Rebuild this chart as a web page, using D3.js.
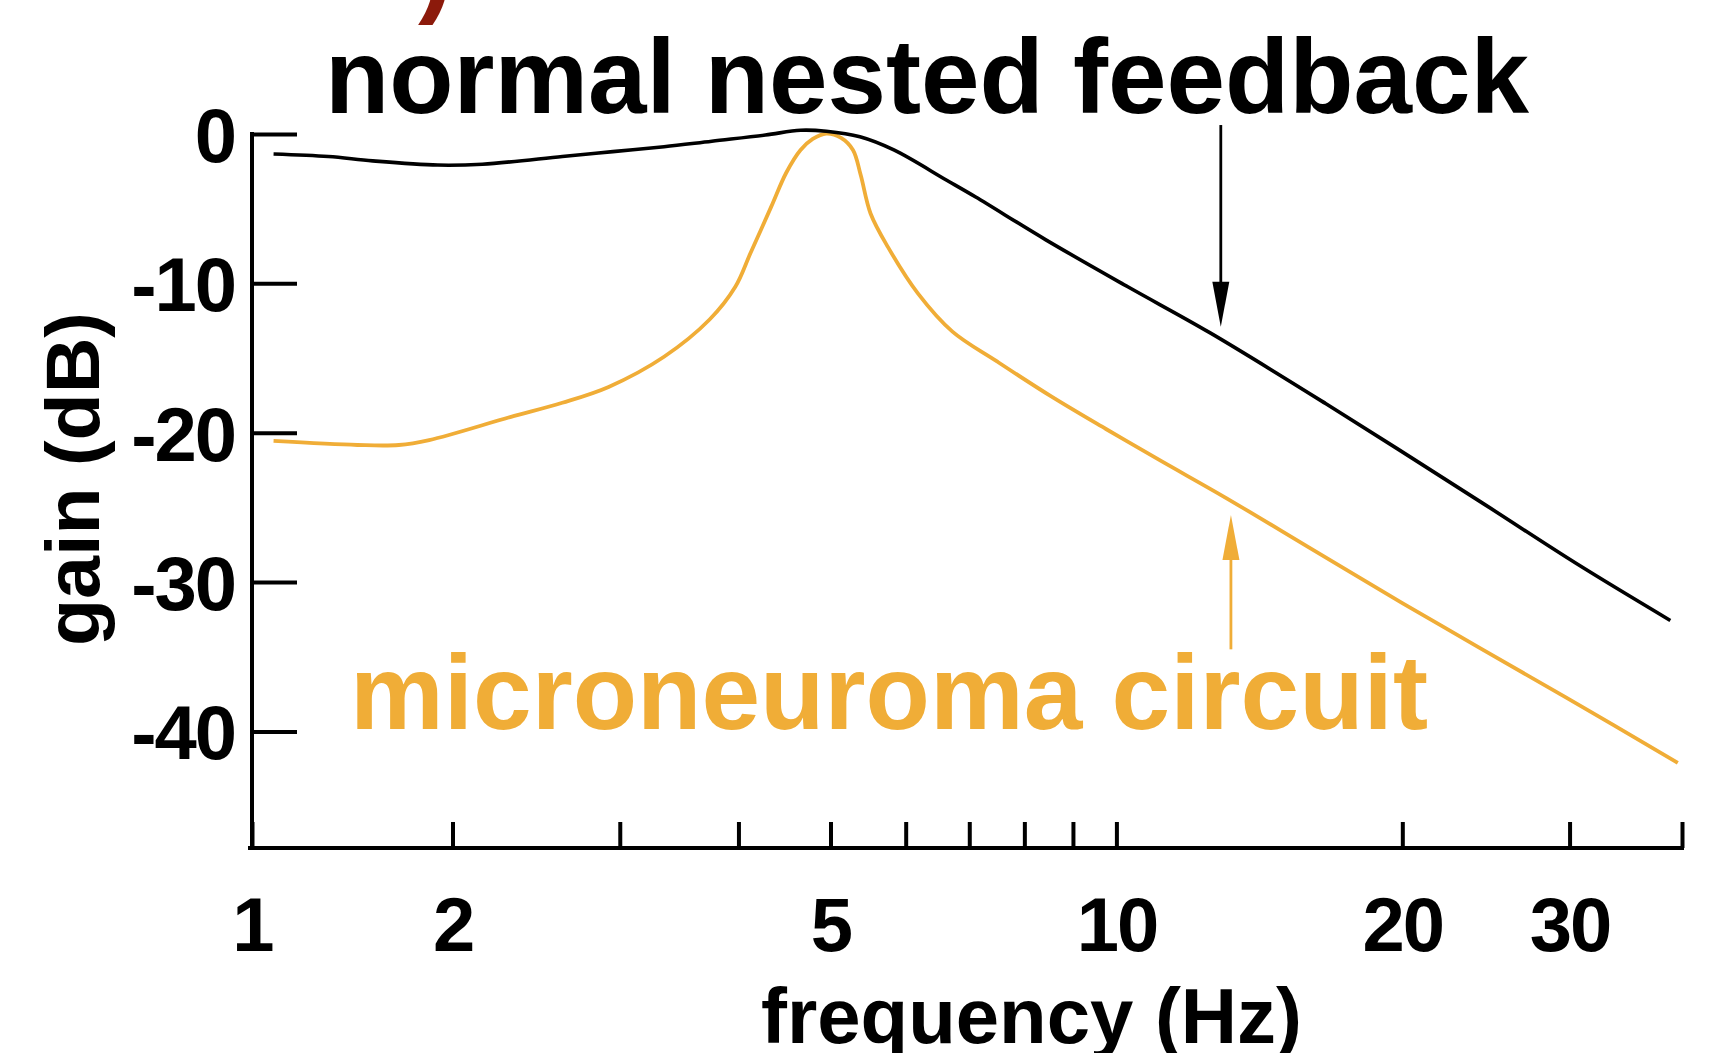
<!DOCTYPE html>
<html>
<head>
<meta charset="utf-8">
<script src="https://cdn.jsdelivr.net/npm/d3@7"></script>
<style>
  body { margin: 0; background: #fff; }
  text { font-family: "Liberation Sans", Arial, sans-serif; font-weight: bold; }
</style>
</head>
<body>
<svg id="chart" width="1716" height="1053"></svg>
<script>
// gain curves (Hz, dB)
var normalFreq = [1.296, 1.48, 1.648, 1.93, 2.15, 2.61, 2.95, 3.34, 3.75, 4.27, 4.65, 4.95, 5.37, 5.83, 6.62, 7.11, 8.42, 10.28, 12.54, 16.62, 24.02, 30.5, 38.3];
var normalGain = [-1.34, -1.51, -1.80, -2.08, -2.02, -1.51, -1.18, -0.85, -0.48, -0.07, 0.25, 0.18, -0.19, -1.07, -3.08, -4.22, -7.07, -10.23, -13.30, -18.06, -24.51, -28.76, -32.57];

var microFreq = [1.296, 1.588, 1.756, 1.89, 2.30, 2.61, 2.92, 3.34, 3.73, 3.97, 4.12, 4.33, 4.49, 4.65, 4.79, 4.95, 5.13, 5.28, 5.38, 5.51, 5.75, 6.18, 6.72, 7.48, 8.53, 9.75, 11.13, 13.05, 16.14, 20.0, 24.02, 29.7, 39.0];
var microGain = [-20.55, -20.82, -20.82, -20.49, -18.95, -17.99, -16.93, -14.91, -12.42, -10.23, -7.95, -4.88, -2.61, -1.07, -0.33, 0.03, -0.26, -1.07, -2.75, -5.32, -7.59, -10.67, -13.23, -15.21, -17.55, -19.75, -21.87, -24.37, -27.88, -31.40, -34.33, -37.70, -42.10];

var xTicks = [1.23, 2, 3, 4, 5, 6, 7, 8, 9, 10, 20, 30, 39.4];
var xLabels = ["1", "2", "", "", "5", "", "", "", "", "10", "20", "30", ""];
var yTicks = [0, -10, -20, -30, -40];

// arrows: [freq, from dB, to dB]
var normalArrow = [12.88, 0.6, -12.9];
var microArrow = [13.2, -34.5, -25.5];

var black = "#000", orange = "#f0ad37";

var svg = d3.select("#chart");

var x = d3.scaleLog().domain([1.23, 39.4]).range([252, 1682]);
var y = d3.scaleLinear().domain([-47.8, 0]).range([848, 134]);

// y axis
var yAxis = d3.axisLeft(y)
	.tickValues(yTicks)
	.tickFormat(d3.format("d"))
	.tickSizeInner(-45)
	.tickSizeOuter(0)
	.tickPadding(17);
var gy = svg.append("g").attr("transform", "translate(" + x.range()[0] + ",0)").call(yAxis);
gy.select(".domain").attr("stroke-width", 4).attr("d", "M0," + (y(0) - 2) + "V" + (y.range()[0] + 2));
gy.selectAll(".tick line").attr("stroke-width", 4);
gy.selectAll(".tick text").attr("font-size", 76).attr("fill", "#000")
	.attr("dy", "0.36em").attr("letter-spacing", -2)
	.text(function(d){ return d === 0 ? "0" : "-" + Math.abs(d); });

// x axis
var xAxis = d3.axisBottom(x)
	.tickValues(xTicks)
	.tickFormat(function(d, i){ return xLabels[i]; })
	.tickSizeInner(-26)
	.tickSizeOuter(0)
	.tickPadding(49);
var gx = svg.append("g").attr("transform", "translate(0," + y.range()[0] + ")").call(xAxis);
gx.select(".domain").attr("stroke-width", 4).attr("d", "M" + (x.range()[0] - 4) + ",0H" + (x.range()[1] + 2));
gx.selectAll(".tick line").attr("stroke-width", 4);
gx.selectAll(".tick text").attr("font-size", 76).attr("fill", "#000").attr("letter-spacing", -2);

// curves
var line = d3.line()
	.x(function(d){ return x(d[0]); })
	.y(function(d){ return y(d[1]); })
	.curve(d3.curveCatmullRom.alpha(0.5));

svg.append("path")
	.datum(d3.zip(microFreq, microGain))
	.attr("d", line).attr("fill", "none")
	.attr("stroke", orange).attr("stroke-width", 3.8);

svg.append("path")
	.datum(d3.zip(normalFreq, normalGain))
	.attr("d", line).attr("fill", "none")
	.attr("stroke", black).attr("stroke-width", 3.6);

// arrows
function arrow(a, color){
	var ax = x(a[0]), y0 = y(a[1]), y1 = y(a[2]);
	var dir = y1 > y0 ? 1 : -1;
	var head = 45, half = 8.5;
	svg.append("line")
		.attr("x1", ax).attr("x2", ax)
		.attr("y1", y0).attr("y2", y1 - dir * head + dir * 3)
		.attr("stroke", color).attr("stroke-width", 2.8);
	svg.append("path")
		.attr("d", "M" + (ax - half) + "," + (y1 - dir * head) + "L" + (ax + half) + "," + (y1 - dir * head) + "L" + ax + "," + y1 + "Z")
		.attr("fill", color);
}
arrow(normalArrow, black);
arrow(microArrow, orange);

// labels
svg.append("text").attr("x", 325).attr("y", 113)
	.attr("font-size", 105).attr("fill", black)
	.attr("textLength", 1204).attr("lengthAdjust", "spacingAndGlyphs")
	.text("normal nested feedback");

svg.append("text").attr("x", 350).attr("y", 729)
	.attr("font-size", 105).attr("fill", orange)
	.attr("textLength", 1078).attr("lengthAdjust", "spacingAndGlyphs")
	.text("microneuroma circuit");

svg.append("text").attr("x", 761).attr("y", 1043)
	.attr("font-size", 78).attr("fill", black)
	.attr("textLength", 541).attr("lengthAdjust", "spacingAndGlyphs")
	.text("frequency (Hz)");

svg.append("text")
	.attr("transform", "translate(99,479) rotate(-90)")
	.attr("text-anchor", "middle")
	.attr("font-size", 76).attr("fill", black)
	.attr("textLength", 334).attr("lengthAdjust", "spacingAndGlyphs")
	.text("gain (dB)");

// panel letter tail, cut at the top edge
svg.append("text").attr("x", 418).attr("y", 3)
	.attr("font-size", 105).attr("fill", "#8c1a0b")
	.text(")");
</script>
</body>
</html>
